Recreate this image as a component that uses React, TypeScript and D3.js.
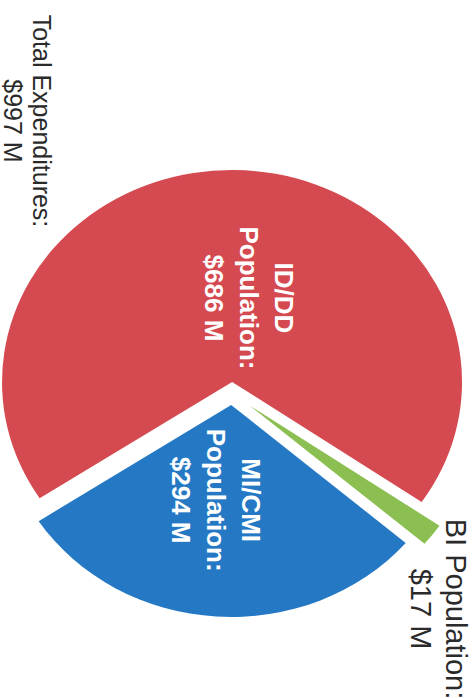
import React from "react";
import * as d3 from "d3";

// ---- data ----
const categories = ["ID/DD", "BI", "MI/CMI"];
const values = [686, 17, 294];
const sliceLabelLines = [
  ["ID/DD", "Population:"],
  ["BI Population:"],
  ["MI/CMI", "Population:"],
];
const totalTitle = "Total Expenditures:";
const totalUnit = "M";

// ---- styles / layout ----
const COLORS = ["#d44a50", "#2579c4", "#8cbf52"];
const colorFor = [COLORS[0], COLORS[2], COLORS[1]];
const W = 474;
const H = 698;
const CX = 232;
const CY = 393;
const RX = 230;
const RY = 212;
const EXPLODE = [11, 22, 12];
const LABEL_R = [0.42, 1.0, 0.45];
const LABEL_NUDGE: [number, number][] = [
  [16, 5],
  [6, 74],
  [-8, 0],
];
const LABEL_SIZE = [26, 29, 26];
const LABEL_WEIGHT = [700, 400, 700];
const LABEL_FILL = ["#ffffff", "#2a2a2a", "#ffffff"];
const LINE_GAP = [35, 35, 35];
const FONT = "'Liberation Sans', Arial, Helvetica, sans-serif";

export default function App() {
  const total = d3.sum(values);
  const start = (236.8 * Math.PI) / 180;
  const pie = d3
    .pie<number>()
    .sort(null)
    .startAngle(start)
    .endAngle(start + 2 * Math.PI);
  const arcs = pie(values);
  const arcGen = d3.arc<d3.PieArcDatum<number>>().innerRadius(0).outerRadius(1);

  const slices = arcs.map((a, i) => {
    const mid = (a.startAngle + a.endAngle) / 2;
    // direction in pixel space (d3 angle: 0 = 12 o'clock, clockwise)
    const ux = Math.sin(mid);
    const uy = -Math.cos(mid);
    const px = ux * RX;
    const py = uy * RY;
    const len = Math.hypot(px, py);
    const ox = CX + (px / len) * EXPLODE[i];
    const oy = CY + (py / len) * EXPLODE[i];
    const lx = ox + ux * RX * LABEL_R[i] + LABEL_NUDGE[i][0];
    const ly = oy + uy * RY * LABEL_R[i] + LABEL_NUDGE[i][1];
    const lines = [...sliceLabelLines[i], `$${values[i]} M`];
    return { a, i, ox, oy, lx, ly, lines };
  });

  const renderLines = (
    lines: string[],
    x: number,
    y: number,
    size: number,
    weight: number,
    fill: string,
    gap: number,
    key: string
  ) => (
    <text
      key={key}
      transform={`translate(${x},${y}) rotate(90)`}
      textAnchor="middle"
      dominantBaseline="central"
      fontFamily={FONT}
      fontSize={size}
      fontWeight={weight}
      fill={fill}
    >
      {lines.map((t, j) => (
        <tspan key={j} x={0} y={(j - (lines.length - 1) / 2) * gap}>
          {t}
        </tspan>
      ))}
    </text>
  );

  return (
    <svg
      width={W}
      height={H}
      style={{ position: "absolute", left: 0, top: 0, background: "#ffffff" }}
    >
      {slices.map((s) => (
        <path
          key={categories[s.i]}
          d={arcGen(s.a) || ""}
          transform={`translate(${s.ox},${s.oy}) scale(${RX},${RY})`}
          fill={colorFor[s.i]}
        />
      ))}
      {slices.map((s) =>
        renderLines(
          s.lines,
          s.lx,
          s.ly,
          LABEL_SIZE[s.i],
          LABEL_WEIGHT[s.i],
          LABEL_FILL[s.i],
          LINE_GAP[s.i],
          "lab" + s.i
        )
      )}
      {renderLines(
        [totalTitle, `$${total} ${totalUnit}`],
        27,
        121,
        25,
        400,
        "#2a2a2a",
        29,
        "total"
      )}
    </svg>
  );
}
